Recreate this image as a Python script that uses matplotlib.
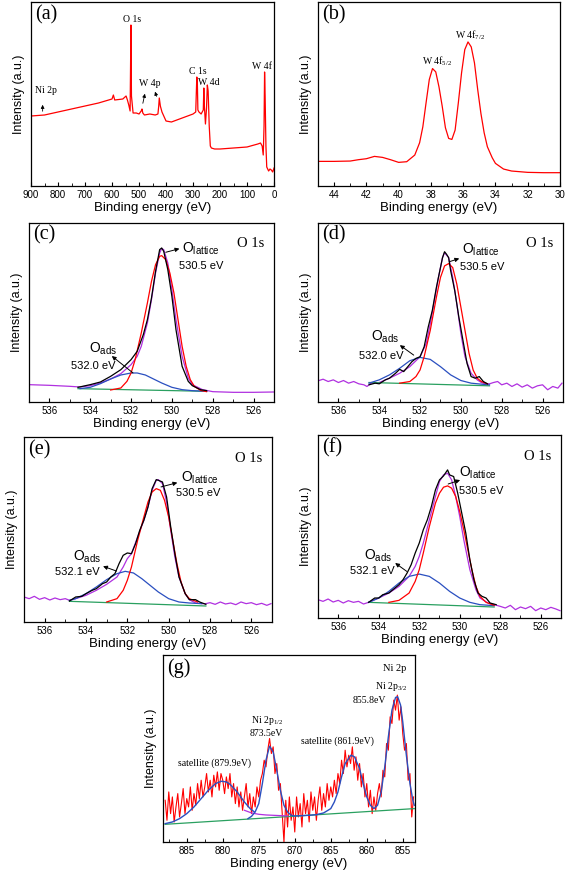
import numpy as np
import matplotlib
matplotlib.use("Agg")
import matplotlib.pyplot as plt
from matplotlib.ticker import MultipleLocator

# ---------------- data ----------------
# (a) survey spectrum
a_x = [900, 850, 800, 750, 700, 650, 600, 595, 590, 560, 548, 543, 538, 533, 531, 530, 528, 522, 510, 500,
       492, 489, 486, 480, 460, 440, 430, 427, 425, 421, 415, 400, 380, 350, 320, 300, 290, 286, 284, 282,
       278, 270, 262, 260, 258, 254, 250, 247, 244, 240, 236, 232, 220, 200, 150, 100, 60, 50, 44, 40, 37,
       35, 33, 30, 27, 20, 15, 10, 5, 0]
a_y = [70, 71, 74, 77, 80, 83, 87, 91, 86, 87, 90, 86, 81, 75, 130, 161, 90, 73, 73, 72,
       75, 77, 73, 71, 72, 71, 72, 80, 88, 80, 74, 65, 64, 67, 70, 72, 74, 109, 104, 76,
       74, 72, 76, 98, 80, 62, 78, 101, 95, 60, 40, 38, 37, 37, 38, 39, 42, 43, 40, 31, 60,
       114, 90, 40, 19, 15, 17, 16, 14, 18]

# (b) W 4f
b_x = [45, 44, 43, 42.5, 42, 41.5, 41, 40.5, 40, 39.5, 39, 38.7, 38.5, 38.3, 38.1, 37.9, 37.7, 37.5,
       37.3, 37.1, 36.9, 36.7, 36.5, 36.3, 36.1, 35.9, 35.7, 35.5, 35.3, 35.1, 34.9, 34.7, 34.5, 34.2, 34,
       33.5, 33, 32, 31, 30]
b_y = [74, 74, 75, 79, 82, 89, 86, 79, 71, 73, 93, 130, 178, 250, 320, 353, 343, 298, 240, 175, 143, 140,
       168, 250, 340, 410, 433, 418, 370, 290, 218, 160, 118, 85, 68, 51, 45, 41, 40, 40]

# (c)-(f) O 1s: purple envelope, black data, red O_lattice, blue O_ads, green baseline
c_pur_x = [537, 536, 535, 534.5, 534, 533.5, 533, 532.5, 532, 531.7, 531.5, 531.2, 531, 530.8, 530.6, 530.5,
           530.4, 530.2, 530, 529.8, 529.5, 529.2, 529, 528.5, 528, 527, 526, 525]
c_pur_y = [52, 50, 47, 45, 49, 57, 69, 85, 112, 137, 167, 237, 307, 387, 447, 460, 457, 417, 337, 247, 137,
           72, 52, 37, 31, 29, 29, 30]
c_blk_x = [534.6, 534, 533.5, 533, 532.5, 532, 531.7, 531.4, 531.2, 531, 530.8, 530.6, 530.5, 530.4, 530.2,
           530, 529.8, 529.5, 529.2, 529, 528.6, 528.3]
c_blk_y = [44, 52, 60, 77, 97, 127, 152, 202, 247, 312, 392, 457, 462, 452, 397, 317, 217, 107, 62, 49, 37, 34]
c_red_x = [533, 532.5, 532.2, 532, 531.8, 531.5, 531.2, 531, 530.8, 530.6, 530.5, 530.3, 530.1, 529.9, 529.7,
           529.5, 529.3, 529.1, 528.9, 528.6, 528.3]
c_red_y = [36, 42, 62, 87, 127, 207, 297, 362, 412, 437, 439, 427, 387, 327, 247, 167, 107, 67, 47, 35, 31]
c_blu_x = [534.5, 534, 533.5, 533, 532.5, 532, 531.7, 531.3, 531, 530.5, 530, 529.5, 529, 528.3]
c_blu_y = [40, 44, 55, 69, 81, 87, 87, 81, 72, 57, 44, 37, 34, 32]
c_grn_x = [534.6, 528.3]
c_grn_y = [40, 32]

d_pur_x = [537, 536.75, 536.5, 536.25, 536, 535.75, 535.5, 535.25, 535, 534.75, 534.6, 534.4, 534, 533.5,
           533, 532.5, 532, 531.7, 531.5, 531.3, 531.1, 530.9, 530.8, 530.6, 530.4, 530.2, 530, 529.8, 529.5,
           529.2, 529, 528.8, 528.6, 528.4, 528.2, 528, 527.75, 527.5, 527.25, 527, 526.75, 526.5, 526.25,
           526, 525.75, 525.5, 525.25, 525.05]
d_pur_y = [64, 69, 62, 67, 59, 65, 57, 62, 55, 52, 47, 57, 59, 72, 87, 107, 137, 177, 237, 307, 377, 437,
           452, 437, 377, 297, 207, 137, 87, 67, 59, 55, 55, 59, 62, 52, 57, 47, 55, 45, 52, 42, 49, 52, 37,
           47, 42, 57]
d_blk_x = [534.5, 534.2, 534, 533.7, 533.5, 533.2, 533, 532.8, 532.6, 532.4, 532.2, 532, 531.8, 531.6, 531.4,
           531.2, 531, 530.9, 530.8, 530.7, 530.6, 530.5, 530.3, 530.1, 529.9, 529.7, 529.5, 529.3, 529.1,
           528.9, 528.7]
d_blk_y = [52, 57, 55, 67, 72, 87, 99, 92, 107, 122, 132, 137, 167, 227, 277, 347, 407, 437, 455, 447, 437,
           397, 337, 257, 187, 117, 77, 72, 77, 62, 55]
d_red_x = [533, 532.5, 532.2, 532, 531.8, 531.5, 531.2, 531, 530.8, 530.6, 530.4, 530.2, 530, 529.8, 529.6,
           529.4, 529.2, 529, 528.7]
d_red_y = [57, 62, 77, 97, 137, 217, 317, 377, 412, 419, 407, 357, 287, 217, 147, 97, 72, 62, 55]
d_blu_x = [534.5, 534, 533.5, 533, 532.5, 532, 531.5, 531, 530.5, 530, 529.5, 529, 528.6]
d_blu_y = [57, 67, 82, 102, 125, 135, 129, 107, 82, 65, 57, 54, 52]
d_grn_x = [534.5, 528.6]
d_grn_y = [59, 49]

e_pur_x = [537, 536.75, 536.5, 536.25, 536, 535.75, 535.5, 535.25, 535, 534.8, 534.5, 534, 533.5, 533,
           532.5, 532.2, 532, 531.8, 531.5, 531.2, 531, 530.8, 530.6, 530.5, 530.3, 530.1, 529.9, 529.7,
           529.5, 529.2, 529, 528.7, 528.4, 528.2, 528, 527.75, 527.5, 527.25, 527, 526.75, 526.5, 526.25,
           526, 525.75, 525.5, 525.25, 525.05]
e_pur_y = [75, 70, 77, 68, 73, 66, 72, 67, 70, 65, 70, 80, 95, 113, 135, 165, 190, 205, 255, 305, 345, 395,
           425, 427, 415, 360, 275, 195, 135, 85, 67, 57, 55, 55, 58, 53, 60, 54, 57, 52, 60, 55, 58, 52, 56,
           50, 55]
e_blk_x = [534.8, 534.5, 534.2, 534, 533.7, 533.5, 533.2, 533, 532.8, 532.6, 532.4, 532.2, 532, 531.8,
           531.6, 531.4, 531.2, 531, 530.8, 530.6, 530.5, 530.3, 530.1, 529.9, 529.7, 529.5, 529.2, 529,
           528.7, 528.5, 528.2]
e_blk_y = [63, 75, 77, 85, 95, 100, 115, 120, 135, 145, 175, 200, 207, 205, 235, 275, 305, 345, 400, 427,
           425, 420, 375, 285, 205, 135, 85, 67, 67, 60, 53]
e_red_x = [533, 532.5, 532.2, 532, 531.8, 531.5, 531.2, 531, 530.8, 530.6, 530.4, 530.2, 530, 529.8, 529.6,
           529.4, 529.2, 529, 528.6]
e_red_y = [60, 70, 95, 125, 165, 245, 315, 360, 390, 400, 395, 365, 315, 245, 175, 120, 85, 70, 60]
e_blu_x = [534.8, 534.5, 534, 533.5, 533, 532.5, 532.1, 531.7, 531.3, 531, 530.5, 530, 529.5, 529, 528.4]
e_blu_y = [65, 70, 85, 105, 127, 145, 152, 147, 130, 115, 90, 70, 60, 57, 55]
e_grn_x = [534.8, 528.2]
e_grn_y = [62, 48]

f_pur_x = [537, 536.75, 536.5, 536.25, 536, 535.75, 535.5, 535.25, 535, 534.75, 534.5, 534, 533.5, 533,
           532.5, 532.2, 532, 531.8, 531.5, 531.2, 531, 530.8, 530.6, 530.4, 530.2, 530, 529.8, 529.5, 529.2,
           529, 528.6, 528.3, 528, 527.75, 527.5, 527.25, 527, 526.75, 526.5, 526.25, 526, 525.75, 525.5,
           525.25, 525.05]
f_pur_y = [55, 50, 57, 48, 53, 45, 52, 47, 50, 42, 47, 60, 75, 95, 125, 155, 185, 225, 295, 365, 410, 430,
           435, 415, 365, 305, 235, 145, 85, 60, 45, 40, 35, 30, 38, 25, 33, 28, 35, 22, 30, 25, 32, 27, 22]
f_blk_x = [534.5, 534.2, 534, 533.8, 533.5, 533.2, 533, 532.8, 532.6, 532.4, 532.2, 532, 531.8, 531.6,
           531.4, 531.2, 531, 530.8, 530.6, 530.5, 530.3, 530.1, 529.9, 529.7, 529.5, 529.3, 529.1, 528.9,
           528.7, 528.5, 528.2]
f_blk_y = [47, 60, 60, 70, 75, 90, 100, 115, 135, 160, 195, 225, 265, 295, 335, 385, 415, 427, 445, 430,
           425, 375, 315, 255, 175, 115, 75, 65, 60, 45, 40]
f_red_x = [533.5, 533, 532.5, 532.2, 532, 531.8, 531.5, 531.2, 531, 530.8, 530.6, 530.4, 530.2, 530, 529.8,
           529.6, 529.4, 529.2, 529, 528.7, 528.3]
f_red_y = [47, 53, 75, 110, 145, 195, 275, 345, 375, 393, 397, 390, 365, 320, 265, 205, 145, 95, 65, 47, 38]
f_blu_x = [534.5, 534, 533.5, 533, 532.5, 532, 531.5, 531, 530.5, 530, 529.5, 529, 528.3]
f_blu_y = [47, 60, 80, 105, 125, 132, 125, 105, 80, 60, 47, 40, 37]
f_grn_x = [534.5, 528.3]
f_grn_y = [47, 33]

# (g) Ni 2p raw data, 0.25 eV steps from 888.0 eV downwards
g_start = 888.0
g_step = 0.25
g_raw = [125, 65, 150, 85, 135, 60, 105, 145, 75, 115, 160, 85, 130, 105, 165, 95, 145, 110, 175, 130,
         185, 135, 165, 205, 150, 185, 135, 200, 165, 210, 155, 205, 185, 145, 195, 160, 205, 135, 175, 115,
         165, 105, 150, 95, 135, 175, 105, 145, 85, 135, 105, 165, 135, 185, 205, 245, 225, 275, 310, 265,
         285, 205, 235, 155, 175, 85, 0, 125, 45, 135, 65, 105, 30, 135, 75, 115, 45, 145, 85, 125, 60, 150,
         95, 135, 65, 125, 165, 95, 145, 105, 175, 125, 165, 135, 185, 145, 205, 175, 245, 205, 275, 225, 260,
         235, 285, 215, 255, 185, 235, 165, 205, 135, 175, 105, 155, 85, 135, 95, 145, 175, 135, 215, 195,
         295, 275, 375, 355, 425, 395, 440, 365, 405, 325, 275, 295, 185, 205, 75, 135]
g_blA_x = [888, 887, 886, 885, 884, 883, 882, 881, 880.2, 879.5, 879, 878, 877, 876.2, 875.6]
g_blA_y = [55, 60, 70, 85, 105, 130, 155, 175, 182, 180, 173, 150, 120, 100, 90]
g_blB_x = [876.5, 876, 875.5, 875, 874.5, 874, 873.5, 873, 872.5, 872, 871.5, 871, 870.5, 870, 869, 868,
           867, 866, 865, 864.5, 864, 863.5, 863, 862.2, 861.7, 861, 860.5, 860, 859.5, 859, 858.5, 858,
           857.5, 857, 856.5, 856, 855.7, 855.3, 855, 854.5, 854, 853.6, 853.4]
g_blB_y = [70, 77, 90, 115, 175, 245, 287, 270, 215, 155, 110, 90, 80, 78, 79, 80, 82, 87, 100, 120, 150,
           195, 235, 260, 255, 220, 175, 135, 110, 100, 110, 150, 225, 315, 395, 433, 435, 410, 360, 260,
           175, 125, 110]
g_pur_x = [877, 876, 875, 874, 873, 872, 871]
g_pur_y = [95, 87, 83, 81, 80, 79, 78]
g_grn_x = [888, 853.4]
g_grn_y = [53, 100]

# ---------------- figure ----------------
SANS = ["Liberation Sans", "DejaVu Sans"]
SERIF = ["Liberation Serif", "DejaVu Serif"]
plt.rcParams["font.family"] = SANS

fig = plt.figure(figsize=(5.67, 8.72), dpi=100)

RED = "#ff0000"
BLUE = "#2a4fc0"
PURP = "#b030e0"
GREEN = "#2aa060"


def style(ax, xlim, ylim, major, minor):
    ax.set_xlim(*xlim)
    ax.set_ylim(*ylim)
    ax.set_yticks([])
    ax.xaxis.set_major_locator(MultipleLocator(major))
    ax.xaxis.set_minor_locator(MultipleLocator(minor))
    ax.tick_params(axis="x", which="major", direction="in", length=3, width=0.8, labelsize=7, pad=3)
    ax.tick_params(axis="x", which="minor", direction="in", length=2, width=0.6)
    for s in ax.spines.values():
        s.set_linewidth(0.9)
    ax.set_ylabel("Intensity (a.u.)", fontsize=9, labelpad=4)
    ax.set_xlabel("Binding energy (eV)", fontsize=9.5, labelpad=1)


def panel_label(ax, t):
    ax.text(0.018, 0.985, t, transform=ax.transAxes, family=SERIF, fontsize=14.5, va="top", ha="left")


# (a)
ax = fig.add_axes([0.0547, 0.7867, 0.4286, 0.2110])
ax.plot(a_x, a_y, color=RED, lw=0.9)
style(ax, (900, 0), (0, 184), 100, 50)
panel_label(ax, "(a)")
kw = dict(family=SERIF, fontsize=7, ha="center", va="center")
ax.text(526, 167, "O 1s", **kw)
ax.text(843, 96, "Ni 2p", **kw)
ax.text(459, 103, "W 4p", **kw)
ax.text(284, 115, "C 1s", **kw)
ax.text(241, 104, "W 4d", **kw)
ax.text(43, 120, "W 4f", **kw)
ap = dict(arrowstyle="-|>", color="black", lw=0.6, mutation_scale=5)
ax.annotate("", xy=(857, 84), xytext=(857, 72), arrowprops=ap)
ax.annotate("", xy=(476, 95), xytext=(488, 80), arrowprops=ap)
ax.annotate("", xy=(444, 97), xytext=(432, 87), arrowprops=ap)

# (b)
ax = fig.add_axes([0.5608, 0.7867, 0.4268, 0.2110])
ax.plot(b_x, b_y, color=RED, lw=0.9)
style(ax, (45, 30), (0, 553), 2, 1)
panel_label(ax, "(b)")
ax.text(37.6, 376, r"W 4f$_{\mathregular{5/2}}$", **kw)
ax.text(35.6, 455, r"W 4f$_{\mathregular{7/2}}$", **kw)


def o1s(rect, pur, blk, red, blu, grn, ylim, lat_o, lat_ev, lat_arrow, ads_o, ads_ev, ads_arrow,
        ads_text, label):
    ax = fig.add_axes(rect)
    ax.plot(*pur, color=PURP, lw=0.9)
    ax.plot(*grn, color=GREEN, lw=0.9)
    ax.plot(*blu, color=BLUE, lw=0.9)
    ax.plot(*red, color=RED, lw=0.9)
    ax.plot(*blk, color="black", lw=0.9)
    style(ax, (537, 525), ylim, 2, 1)
    panel_label(ax, label)
    ax.text(0.96, 0.92, "O 1s", transform=ax.transAxes, family=SERIF, fontsize=10.5, ha="right", va="top")
    ax.text(lat_o[0], lat_o[1], r"O$_{\mathregular{lattice}}$", fontsize=10, ha="left", va="center")
    ax.text(lat_ev[0], lat_ev[1], "530.5 eV", fontsize=8, ha="left", va="center")
    ax.annotate("", xy=lat_arrow[1], xytext=lat_arrow[0],
                arrowprops=dict(arrowstyle="-|>", color="black", lw=0.7, mutation_scale=6))
    ax.text(ads_o[0], ads_o[1], r"O$_{\mathregular{ads}}$", fontsize=10, ha="center", va="center")
    ax.text(ads_ev[0], ads_ev[1], ads_text, fontsize=8, ha="center", va="center")
    ax.annotate("", xy=ads_arrow[1], xytext=ads_arrow[0],
                arrowprops=dict(arrowstyle="-|>", color="black", lw=0.7, mutation_scale=6))
    return ax


# (c)
o1s([0.0511, 0.5390, 0.4321, 0.2053], (c_pur_x, c_pur_y), (c_blk_x, c_blk_y), (c_red_x, c_red_y),
    (c_blu_x, c_blu_y), (c_grn_x, c_grn_y), (0, 537),
    (529.5, 460), (529.65, 409), ((530.43, 447), (529.5, 462)),
    (533.35, 160), (533.85, 107), ((531.8, 82), (533.05, 143)), "532.0 eV", "(c)")
# (d)
o1s([0.5608, 0.5390, 0.4321, 0.2053], (d_pur_x, d_pur_y), (d_blk_x, d_blk_y), (d_red_x, d_red_y),
    (d_blu_x, d_blu_y), (d_grn_x, d_grn_y), (0, 542),
    (529.95, 460), (530.05, 409), ((530.7, 422), (529.95, 437)),
    (533.7, 198), (533.9, 140), ((532.2, 137), (533.1, 177)), "532.0 eV", "(d)")
# (e)
o1s([0.0423, 0.2867, 0.4374, 0.2122], (e_pur_x, e_pur_y), (e_blk_x, e_blk_y), (e_red_x, e_red_y),
    (e_blu_x, e_blu_y), (e_grn_x, e_grn_y), (0, 555),
    (529.4, 432), (529.65, 387), ((530.5, 403), (529.45, 420)),
    (533.95, 196), (534.4, 150), ((532.4, 150), (533.3, 170)), "532.1 eV", "(e)")
# (f)
o1s([0.5608, 0.2913, 0.4286, 0.2099], (f_pur_x, f_pur_y), (f_blk_x, f_blk_y), (f_red_x, f_red_y),
    (f_blu_x, f_blu_y), (f_grn_x, f_grn_y), (0, 550),
    (530.06, 437), (530.06, 382), ((530.7, 400), (529.85, 417)),
    (534.05, 186), (534.34, 140), ((532.5, 135), (533.3, 170)), "532.1 eV", "(f)")

# (g)
ax = fig.add_axes([0.2875, 0.0344, 0.4444, 0.2144])
g_x = g_start - g_step * np.arange(len(g_raw))
ax.plot(g_x, g_raw, color=RED, lw=0.8)
ax.plot(g_grn_x, g_grn_y, color=GREEN, lw=0.9)
ax.plot(g_pur_x, g_pur_y, color=PURP, lw=0.9)
ax.plot(g_blA_x, g_blA_y, color=BLUE, lw=1.0)
ax.plot(g_blB_x, g_blB_y, color=BLUE, lw=1.0)
style(ax, (888.3, 853.3), (0, 560), 5, 2.5)
panel_label(ax, "(g)")
ax.text(0.965, 0.95, "Ni 2p", transform=ax.transAxes, family=SERIF, fontsize=7.5, ha="right", va="top")
ax.text(856.6, 465, r"Ni 2p$_{\mathregular{3/2}}$", **kw)
ax.text(859.6, 425, "855.8eV", **kw)
ax.text(873.9, 365, r"Ni 2p$_{\mathregular{1/2}}$", **kw)
ax.text(873.9, 325, "873.5eV", **kw)
ax.text(864.1, 303, "satellite (861.9eV)", **kw)
ax.text(881.1, 235, "satellite (879.9eV)", **kw)

fig.savefig("out.png", dpi=100)
